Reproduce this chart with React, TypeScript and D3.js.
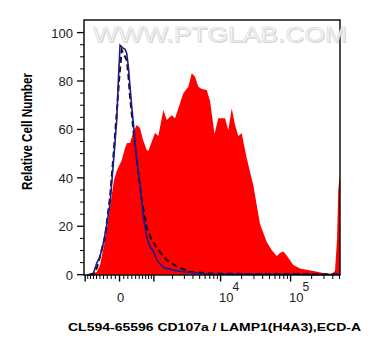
import React from 'react';
import * as d3 from 'd3';

// ---- data (fluorescence intensity, relative cell number) ----
const redX = [-927,-745,-593,-495,-384,-280,-187,-131,-59,52,131,180,254,339,430,524,615,735,790,915,1047,1192,1438,1627,1943,2180,2589,2896,3428,3842,4290,4788,5360,6326,7055,8185,9278,11572,12901,14428,16084,17929,20051,21627,23635,26343,29363,32837,36600,40390,45620,53770,63380,70640,78730,88050,109350,136300,160680,211040,293150,386500,430780,460060,480150,499450,508000];
const redY = [0,0.3,1.1,4.0,12.3,21.8,32.9,39.1,43.2,47.3,52.3,54.4,54.4,58.9,61.8,60.6,55.6,51.5,51.1,54.9,58.5,57.3,68.0,63.9,65.9,64.6,70.8,74.9,77.6,83.2,81.8,77.6,76.7,76.3,71.7,58.1,64.6,64.6,59.7,68.7,61.8,57.3,58.4,53.6,48.2,42.4,37.0,28.8,20.9,17.6,13.5,10.2,7.7,9.0,9.6,7.9,4.0,2.6,2.1,1.5,0.7,0.3,1.5,14.3,35.0,40.0,40.0];

const blueX = [-927,-712,-593,-495,-403,-313,-229,-148,-67,-28,12,90,131,172,212,254,297,339,430,524,624,735,852,978,1120,1438,2055,2896,6326,18950,136300,508000];
const blueY = [0,0.1,4.8,7.5,13.0,20.5,29.6,46.1,63.9,80.4,94.8,93.5,93.1,91.4,85.9,77.6,69.4,62.6,47.3,37.4,23.9,15.6,11.5,9.8,6.1,3.0,1.9,1.2,0.3,0.2,0.1,0.1];

const dashX = [-852,-646,-545,-357,-229,-148,-67,-5,52,90,172,212,254,339,475,575,735,915,1192,1627,2312,3630,7055,26343,508000];
const dashY = [0,0.7,4.8,15.7,32.2,48.7,66.8,81.8,92.8,91.4,88.7,82.5,73.5,59.7,41.8,30.8,19.3,14.3,10.2,6.1,3.3,1.2,0.5,0.3,0.2];

const yTicks = [0, 20, 40, 60, 80, 100];
const xMajor = [-1000, 0, 1000, 10000, 100000];
const xMinorBase = [2, 3, 4, 5, 6, 7, 8, 9];
const xLabels = [
  { v: 0, base: '0', exp: '' },
  { v: 10000, base: '10', exp: '4' },
  { v: 100000, base: '10', exp: '5' },
];
const xTitle = 'CL594-65596 CD107a / LAMP1(H4A3),ECD-A';
const yTitle = 'Relative Cell Number';
const watermark = 'WWW.PTGLAB.COM';

const FONT = '"Liberation Sans", Arial, sans-serif';

export default function App() {
  const L = 84, R = 340, TOP = 20, B = 274.7;
  const T = (v: number) => Math.asinh(v / 722) / Math.LN10;
  const xs = d3.scaleLinear().domain([T(-1050), T(508000)]).range([L, R]);
  const x = (v: number) => xs(T(v));
  const y = d3.scaleLinear().domain([0, 105.2]).range([B, TOP]);

  const zip = (a: number[], b: number[]) => a.map((v, i) => [v, b[i]] as [number, number]);
  const area = d3.area<[number, number]>().x(d => x(d[0])).y0(y(0)).y1(d => y(d[1]));
  const line = d3.line<[number, number]>().x(d => x(d[0])).y(d => y(d[1]));

  const minor: number[] = [];
  for (let k = 1; k <= 9; k++) { minor.push(-k * 100); minor.push(k * 100); }
  [1000, 10000].forEach(dec => xMinorBase.forEach(m => minor.push(m * dec)));
  [2, 3, 4, 5].forEach(m => minor.push(m * 100000));

  const yMinor = d3.range(0, 101, 5).filter(v => v % 20 !== 0);

  return (
    <svg width={380} height={356} style={{ position: 'absolute', left: 0, top: 0, background: '#fff' }}>
      <defs>
        <clipPath id="plotclip"><rect x={L} y={TOP} width={R - L} height={B - TOP + 1} /></clipPath>
      </defs>
      <rect x={0} y={0} width={380} height={356} fill="#fff" />
      <g clipPath="url(#plotclip)">
        <path d={area(zip(redX, redY)) || ''} fill="#ff0000" />
        <path d={line(zip(dashX, dashY)) || ''} fill="none" stroke="#111" strokeWidth={2} strokeDasharray="6,3.5" />
        <path d={line(zip(blueX, blueY)) || ''} fill="none" stroke="#1c1a8c" strokeWidth={1.6} />
      </g>
      {/* frame */}
      <rect x={L} y={TOP} width={R - L} height={275 - TOP} fill="none" stroke="#000" strokeWidth={1.4} />
      {/* y ticks */}
      {yTicks.map(t => (
        <g key={'yt' + t}>
          <line x1={77} x2={L} y1={y(t)} y2={y(t)} stroke="#000" strokeWidth={1.3} />
          <text x={73} y={y(t) + 5} textAnchor="end" fontFamily={FONT} fontSize={13} fill="#222">{t}</text>
        </g>
      ))}
      {yMinor.map(t => (
        <line key={'ym' + t} x1={80} x2={L} y1={y(t)} y2={y(t)} stroke="#000" strokeWidth={1} />
      ))}
      {/* x ticks */}
      {xMajor.map(t => (
        <line key={'xt' + t} x1={x(t)} x2={x(t)} y1={275} y2={281.5} stroke="#000" strokeWidth={1.4} />
      ))}
      {minor.map(t => (
        <line key={'xm' + t} x1={x(t)} x2={x(t)} y1={275} y2={279} stroke="#000" strokeWidth={1} />
      ))}
      {xLabels.map(l => l.exp === '' ? (
        <text key={'xl' + l.v} x={x(l.v) + 1} y={302} textAnchor="middle" fontFamily={FONT} fontSize={13} fill="#222">{l.base}</text>
      ) : (
        <g key={'xl' + l.v}>
          <text x={x(l.v) - 1.5} y={302} fontFamily={FONT} fontSize={13} fill="#222">{l.base}</text>
          <text x={x(l.v) + 12} y={291} fontFamily={FONT} fontSize={12} fill="#222">{l.exp}</text>
        </g>
      ))}
      {/* titles */}
      <text x={68} y={331} fontFamily={FONT} fontWeight="bold" fontSize={11.5} textLength={293} lengthAdjust="spacingAndGlyphs" fill="#000">{xTitle}</text>
      <text transform="translate(31.5,131.5) scale(1.2,1) rotate(-90)" textAnchor="middle" fontFamily={FONT} fontWeight="bold" fontSize={11.7} fill="#000">{yTitle}</text>
      {/* watermark */}
      <text x={94} y={42.5} fontFamily={FONT} fontSize={22} textLength={254} lengthAdjust="spacingAndGlyphs" fill="#c4c4c4" opacity={0.7}>{watermark}</text>
      <text x={93} y={41.5} fontFamily={FONT} fontSize={22} textLength={254} lengthAdjust="spacingAndGlyphs" fill="#f5f5f5" stroke="#d6d6d6" strokeWidth={0.5}>{watermark}</text>
    </svg>
  );
}
